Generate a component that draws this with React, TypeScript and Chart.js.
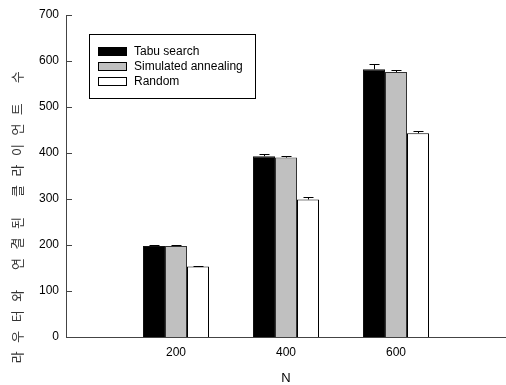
import React, { useEffect, useRef } from 'react';
import { Chart, registerables } from 'chart.js';

Chart.register(...registerables);

const categories = ['', '200', '400', '600', ''];
const seriesLabels = ['Tabu search', 'Simulated annealing', 'Random'];
const tabuValues = [null, 198, 393, 582, null];
const tabuErrors = [0, 1, 4, 12, 0];
const saValues = [null, 198, 390, 576, null];
const saErrors = [0, 1, 3, 5, 0];
const randomValues = [null, 153, 299, 443, null];
const randomErrors = [0, 1, 5, 5, 0];
const yMin = 0;
const yMax = 700;
const yStep = 100;
const xTitle = 'N';
const yTitle = '라우터와 연결된 클라이언트 수';

const FONT = '"Liberation Sans", Arial, sans-serif';

const overlay = {
  id: 'overlay',
  afterDatasetsDraw(chart: any) {
    const ctx = chart.ctx as CanvasRenderingContext2D;
    const yScale = chart.scales.y;
    const { left, right } = chart.chartArea;
    ctx.save();
    // error bars
    ctx.strokeStyle = '#000';
    ctx.lineWidth = 1;
    chart.data.datasets.forEach((ds: any, di: number) => {
      const meta = chart.getDatasetMeta(di);
      meta.data.forEach((bar: any, i: number) => {
        const v = ds.data[i];
        if (v == null) return;
        const err = ds.errors[i];
        const yTop = Math.round(yScale.getPixelForValue(v + err)) + 0.5;
        const yBar = yScale.getPixelForValue(v);
        const x = Math.round(bar.x) + 0.5;
        ctx.beginPath();
        ctx.moveTo(x, yBar);
        ctx.lineTo(x, yTop);
        ctx.moveTo(x - 5, yTop);
        ctx.lineTo(x + 5, yTop);
        ctx.stroke();
      });
    });
    // inward ticks on y axis
    ctx.strokeStyle = '#444';
    for (let v = yMin + yStep; v <= yMax; v += yStep) {
      const y = Math.round(yScale.getPixelForValue(v)) + 0.5;
      ctx.beginPath();
      ctx.moveTo(left, y);
      ctx.lineTo(left + 6, y);
      ctx.stroke();
    }
    // legend
    const bx = 89.5, by = 34.5, bw = 166, bh = 64;
    ctx.fillStyle = '#fff';
    ctx.fillRect(bx, by, bw, bh);
    ctx.strokeStyle = '#000';
    ctx.strokeRect(bx, by, bw, bh);
    ctx.font = '12px ' + FONT;
    ctx.textBaseline = 'middle';
    ctx.textAlign = 'left';
    chart.data.datasets.forEach((ds: any, i: number) => {
      const sy = 47.5 + i * 15;
      ctx.fillStyle = ds.backgroundColor;
      ctx.fillRect(98.5, sy, 28, 8);
      ctx.strokeStyle = '#000';
      ctx.strokeRect(98.5, sy, 28, 8);
      ctx.fillStyle = '#000';
      ctx.fillText(ds.label, 134, 52 + i * 15);
    });
    // x title
    ctx.font = '13px ' + FONT;
    ctx.textAlign = 'center';
    ctx.fillText(xTitle, (left + Math.min(right, 506)) / 2, 378);
    // y title
    ctx.translate(17, 213);
    ctx.rotate(-Math.PI / 2);
    ctx.font = '13px "Noto Sans CJK KR", sans-serif';
    const w0 = ctx.measureText(yTitle).width;
    const n = Array.from(yTitle).length;
    (ctx as any).letterSpacing = Math.max(0, (292 - w0) / (n - 1)) + 'px';
    ctx.fillStyle = '#333';
    ctx.fillText(yTitle, 0, 0);
    ctx.restore();
  },
};

export default function App() {
  const ref = useRef<HTMLCanvasElement | null>(null);
  useEffect(() => {
    document.body.style.margin = '0';
    if (!ref.current) return;
    const chart = new Chart(ref.current, {
      type: 'bar',
      data: {
        labels: categories,
        datasets: [
          { label: seriesLabels[0], data: tabuValues, errors: tabuErrors, backgroundColor: '#000000', borderColor: '#111111', borderWidth: 1 } as any,
          { label: seriesLabels[1], data: saValues, errors: saErrors, backgroundColor: '#c0c0c0', borderColor: '#333333', borderWidth: 1 } as any,
          { label: seriesLabels[2], data: randomValues, errors: randomErrors, backgroundColor: '#ffffff', borderColor: '#000000', borderWidth: 1 } as any,
        ],
      },
      options: {
        animation: false,
        responsive: true,
        maintainAspectRatio: false,
        layout: { padding: { left: 0, top: 15, right: -4, bottom: 0 } },
        datasets: { bar: { categoryPercentage: 0.6, barPercentage: 1 } },
        plugins: { legend: { display: false }, tooltip: { enabled: false } },
        scales: {
          x: {
            offset: false,
            grid: { display: false, drawTicks: false, offset: false },
            border: { display: true, color: '#444', width: 1 },
            ticks: { color: '#000', font: { family: FONT, size: 12 }, padding: 8, maxRotation: 0, autoSkip: false },
            afterFit: (s: any) => { s.height = 48; s.paddingRight = -4; s.paddingLeft = 0; },
          },
          y: {
            min: yMin,
            max: yMax,
            grid: { display: false, drawTicks: false },
            border: { display: true, color: '#444', width: 1 },
            ticks: { stepSize: yStep, color: '#000', font: { family: FONT, size: 12 }, padding: 7 },
            afterFit: (s: any) => { s.width = 66; },
          },
        },
      },
      plugins: [overlay],
    });
    return () => chart.destroy();
  }, []);
  return (
    <div style={{ width: 506, height: 385, position: 'relative' }}>
      <canvas ref={ref} />
    </div>
  );
}
